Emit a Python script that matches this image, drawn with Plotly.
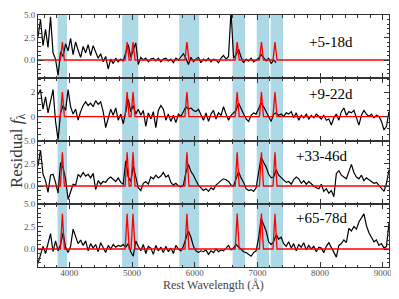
import plotly.graph_objects as go
from plotly.subplots import make_subplots

# ---------------- data ----------------
wave = list(range(3500, 9101, 40))   # sampling grid of the residual spectra (Angstrom)

resid_p1 = [2.6, 4.5, 1.6, 3.4, 1.4, 4.8, 0.8, 0.1, -1.7, 0.9,
            0.4, 1.8, 1.0, 2.4, 0.6, 2.0, 1.1, 0.3, 1.5, 0.8,
            1.7, 0.5, 1.6, 0.9, 0.2, 0.7, -0.2, 0.4, -1.0, 0.1,
            -0.4, 0.2, -0.2, 0.1, -0.1, 0.8, 1.7, 0.3, 1.0, 1.9,
            -0.5, 0.3, 0.0, 0.2, -0.2, 0.1, 0.2, -0.1, 0.2, -0.2,
            0.1, 0.2, -0.1, 0.1, -0.3, 0.2, 0.0, 0.3, 0.7, 0.2,
            -0.5, 0.3, -0.2, 0.1, 0.3, -0.3, 0.1, -0.1, 0.2, -0.2,
            0.1, 0.0, -0.3, 0.2, 0.5, 0.1, 0.4, 5.5, 0.2, 0.6,
            1.2, 0.3, -0.3, 0.1, -0.1, 0.2, -0.2, 0.0, 0.2, 0.6,
            0.2, -0.1, 0.2, -0.4, 0.0, -0.3]

resid_p2 = [1.8, 2.2, 0.6, 1.6, 0.3, 1.2, 2.2, -0.4, -1.9, 0.3,
            0.9, 0.5, 2.2, 0.8, 0.2, 0.6, -0.3, 0.4, 0.9, 1.2,
            0.9, 1.1, 0.8, 1.3, 1.0, 1.2, 0.4, -0.9, -0.2, 0.6,
            0.1, 0.7, -0.3, 0.2, -0.6, 0.3, 1.4, 0.4, 0.9, 0.2,
            0.6, 0.1, 0.5, -0.8, 0.3, -0.2, 0.4, -0.9, 0.5, 0.9,
            0.6, -0.3, 0.2, -0.4, 0.1, -0.5, 0.2, 0.0, 0.4, 0.8,
            0.6, 0.7, 0.5, 0.4, 0.6, 0.1, -0.3, 0.3, -0.4, 0.2,
            0.5, -0.2, 0.3, 0.1, 0.8, 0.2, -0.3, 0.1, 0.3, 0.5,
            1.1, 0.6, 0.2, -0.2, -0.4, 0.1, 0.3, 0.2, 0.6, 1.1,
            0.8, 0.4, 0.0, -0.4, 0.2, 0.3, 0.1, 0.2, 0.0, 0.3,
            0.2, 0.4, -0.1, 0.3, -0.3, 0.1, -0.1, 0.2, -0.2, 0.1,
            -0.1, 0.2, 0.0, -0.2, 0.1, -0.3, -0.2, -0.7, -0.1, 0.2,
            -0.3, 0.4, 0.7, 0.1, 0.4, 0.3, 0.5, -0.2, -0.7, 0.1,
            0.5, 0.2, 0.0, 0.2, -0.1, 0.1, 0.0, -0.4, -1.1, -0.8,
            0.4]

resid_p3 = [2.2, 4.0, 1.3, 0.6, -0.7, 1.2, 1.3, 0.4, -0.8, 2.6,
            2.0, 0.8, -1.5, -0.6, 0.2, 0.1, 1.3, 1.0, 1.5, 1.1,
            1.3, 0.9, 1.4, -0.4, 0.6, 0.2, 0.5, 0.4, 0.8, 1.0,
            0.7, 0.5, 0.9, 0.4, 0.2, 2.8, 1.0, 0.5, 2.2, 0.8,
            -0.2, -0.5, 0.3, 0.5, 0.2, 1.0, 0.8, 1.2, 0.9, 1.1,
            1.5, 1.0, 1.2, 0.4, 0.1, 0.3, 0.0, -0.1, 0.1, 1.5,
            2.4, 1.6, 1.2, 0.6, 0.1, -0.2, -0.5, -0.3, -0.6, -0.2,
            -0.4, 0.1, 0.4, 0.6, 0.8, 0.7, 0.5, 0.1, 0.0, 0.9,
            1.6, 0.9, 0.4, -0.3, -0.5, -0.4, -0.6, -0.2, 1.5, 3.2,
            2.6, 2.1, 1.3, 0.9, 1.0, 1.8, 1.2, 0.9, 0.6, 0.4,
            0.5, 0.2, 0.7, 1.0, 0.8, 0.3, 0.6, 0.2, 0.5, 0.2,
            0.0, -0.2, -0.3, 0.2, -0.6, -0.3, -0.8, -0.5, -1.2, 1.4,
            1.7, 1.2, 1.0, 0.8, 1.6, 2.4, 1.5, 1.0, 0.8, 1.2,
            0.6, 0.9, 0.7, 0.5, 0.3, 0.4, 0.1, -0.2, -0.6, 0.3,
            1.8]

resid_p4 = [-1.6, -0.6, 0.3, -0.5, 0.6, 1.7, -0.3, 0.9, -0.2, 0.5,
            1.8, 0.2, -0.4, 0.3, 2.2, 1.3, 0.6, 1.0, 0.4, 0.9,
            -0.2, 0.6, 0.1, 0.5, -0.3, 0.7, 0.2, -0.4, 0.4, 0.0,
            0.5, 0.2, 0.4, 0.3, 0.5, 0.2, 0.6, -0.3, -0.8, 0.9,
            0.3, -0.2, 0.5, -0.5, 0.3, 0.1, -0.6, 0.4, -0.2, 0.2,
            -0.4, 0.3, -0.3, 0.1, -0.5, 0.4, 0.0, -0.2, 0.3, 1.2,
            2.0, 1.3, 0.3, -0.2, -0.4, -0.2, -0.3, -0.1, -0.6, -0.2,
            -0.4, 0.0, -0.3, -0.1, -0.2, 0.1, 0.4, -0.1, 0.1, 0.5,
            0.2, 0.0, -0.3, -0.4, -0.6, -0.8, -0.4, -0.2, 1.2, 3.4,
            2.7, 2.0, 0.8, 0.5, 0.8, 1.6, 1.1, 1.3, 0.6, 0.3,
            0.8, 0.1, 0.6, -0.2, 0.5, 0.2, 0.7, -0.1, 0.4, 0.0,
            0.3, -0.3, 0.2, 0.1, -0.4, 0.3, 0.7, 0.2, -0.3, -0.9,
            0.4, 0.6, 1.0, 0.7, 2.3, 2.0, 2.5, 2.2, 3.0, 3.4,
            3.9, 2.6, 1.8, 1.3, 0.8, 1.0, 0.4, 0.6, 0.1, 0.3,
            2.9]

residuals = [resid_p1, resid_p2, resid_p3, resid_p4]

# He I model (red): wavelengths and values
model_x = [3500, 3857, 3889, 3921, 4890, 4922, 4954, 4984, 5016, 5048,
           5844, 5876, 5908, 6646, 6678, 6710, 7033, 7065, 7097,
           7249, 7281, 7313, 9100]
model_p1 = [0, 0, 2.0, 0, 0, 2.0, 0, 0, 2.0, 0, 0, 2.0, 0, 0, 2.0, 0, 0, 2.0, 0, 0, 2.0, 0, 0]
model_p2 = [0, 0, 2.0, 0, 0, 2.0, 0, 0, 2.0, 0, 0, 2.0, 0, 0, 2.0, 0, 0, 2.0, 0, 0, 2.0, 0, 0]
model_p3 = [0, 0, 3.75, 0, 0, 3.75, 0, 0, 3.75, 0, 0, 3.75, 0, 0, 3.75, 0, 0, 3.75, 0, 0, 3.75, 0, 0]
model_p4 = [0, 0, 3.9, 0, 0, 3.9, 0, 0, 3.9, 0, 0, 3.9, 0, 0, 3.95, 0, 0, 3.95, 0, 0, 3.9, 0, 0]
models = [model_p1, model_p2, model_p3, model_p4]

band_lo = [3812, 4842, 5753, 6604, 6990, 7212]
band_hi = [3962, 5100, 6072, 6804, 7186, 7409]

panel_labels = ["+5-18d", "+9-22d", "+33-46d", "+65-78d"]
label_x = [8170, 8170, 8030, 8030]
label_y = [1.95, 1.85, 3.3, 3.4]

y_ranges = [[-2, 5], [-2, 3.15], [-2, 5], [-2, 5]]
y_ticks = [[0, 2.5, 5], [0, 2], [0, 2.5, 5], [0, 2.5, 5]]
y_ticktext = [["0.0", "2.5", "5.0"], ["0", "2"], ["0.0", "2.5", "5.0"], ["0.0", "2.5", "5.0"]]
x_ticks = [4000, 5000, 6000, 7000, 8000, 9000]

# ---------------- figure ----------------
FONT = "Liberation Serif"
fig = make_subplots(rows=4, cols=1, shared_xaxes=True, vertical_spacing=0)

for i in range(4):
    r = i + 1
    fig.add_trace(go.Scatter(x=wave[:len(residuals[i])], y=residuals[i], mode="lines",
                             line=dict(color="black", width=1.2), hoverinfo="skip"),
                  row=r, col=1)
    fig.add_trace(go.Scatter(x=model_x, y=models[i], mode="lines",
                             line=dict(color="#ff0000", width=1.3), hoverinfo="skip"),
                  row=r, col=1)
    fig.update_yaxes(range=y_ranges[i], tickvals=y_ticks[i], ticktext=y_ticktext[i],
                     row=r, col=1)
    sfx = "" if r == 1 else str(r)
    fig.add_annotation(x=label_x[i], y=label_y[i], xref="x" + sfx, yref="y" + sfx,
                       text=panel_labels[i], showarrow=False,
                       font=dict(family=FONT, size=15, color="black"),
                       xanchor="center", yanchor="middle")

for lo, hi in zip(band_lo, band_hi):
    fig.add_shape(type="rect", xref="x", yref="paper", x0=lo, x1=hi, y0=0, y1=1,
                  fillcolor="#add8e6", line_width=0, layer="below")

fig.update_xaxes(range=[3500, 9100], tickvals=x_ticks, showline=True, linecolor="#333",
                 linewidth=1, mirror="allticks", ticks="inside", ticklen=5, tickcolor="#333",
                 minor=dict(ticks="inside", ticklen=2.5, dtick=200, tick0=3400, tickcolor="#333"),
                 showgrid=False, zeroline=False, ticklabelstandoff=-3,
                 tickfont=dict(family=FONT, size=9, color="#555"))
fig.update_yaxes(showline=True, linecolor="#333", linewidth=1, mirror="allticks",
                 ticks="inside", ticklen=5, tickcolor="#333",
                 minor=dict(ticks="inside", ticklen=2.5, dtick=0.5, tick0=0, tickcolor="#333"),
                 showgrid=False, zeroline=False,
                 tickfont=dict(family=FONT, size=9, color="#555"))

fig.add_annotation(x=0.5, y=-0.07, xref="paper", yref="paper", text="Rest Wavelength (Å)",
                   showarrow=False, font=dict(family=FONT, size=12, color="#444"),
                   xanchor="center", yanchor="middle")
fig.add_annotation(x=-0.057, y=0.46, xref="paper", yref="paper",
                   text="Residual <i>f</i><sub>λ</sub>", textangle=-90,
                   showarrow=False, font=dict(family=FONT, size=17, color="#333"),
                   xanchor="center", yanchor="middle", borderpad=0)

# the page body adds an 8 px offset, so the figure is sized to fit the window
fig.update_layout(width=391, height=291, showlegend=False,
                  margin=dict(l=30, r=10, t=2, b=32),
                  plot_bgcolor="white", paper_bgcolor="white")

fig.write_html("out.html")
